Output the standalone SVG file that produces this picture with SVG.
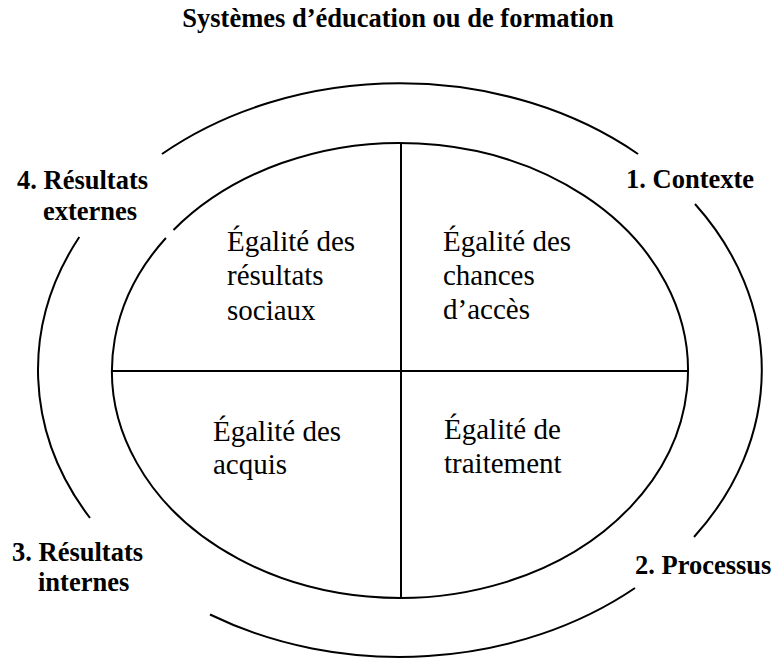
<svg xmlns="http://www.w3.org/2000/svg" width="774" height="658" viewBox="0 0 774 658">
<style>
.ln{fill:none;stroke:#000;stroke-width:2}
.b{font-family:"Liberation Serif","Times New Roman",serif;font-weight:bold;font-size:26.5px;fill:#000}
.r{font-family:"Liberation Serif","Times New Roman",serif;font-size:29px;fill:#000}
</style>
<rect width="774" height="658" fill="#fff"/>
<g id="title"><text class="b" x="398" y="27" text-anchor="middle">Systèmes d’éducation ou de formation</text></g>
<g id="outer-ring">
<path class="ln" d="M162,154 A362,286.7 0 0 1 638,154"/>
<path class="ln" d="M695,204 A362,286.7 0 0 1 694,537"/>
<path class="ln" d="M635,588 A362,286.7 0 0 1 210,614.5"/>
<path class="ln" d="M90,518 A362,286.7 0 0 1 79.3,237"/>
</g>
<g id="inner-ellipse">
<path class="ln" d="M173.5,230 A288,227.5 0 1 1 165.9,238"/>
</g>
<g id="connectors">
<line class="ln" x1="401" y1="143" x2="401" y2="598"/>
<line class="ln" x1="112" y1="371" x2="688" y2="371"/>
</g>
<g id="label-4"><text class="b" x="17" y="189">4. Résultats</text><text class="b" x="43" y="220">externes</text></g>
<g id="label-1"><text class="b" x="626" y="188">1. Contexte</text></g>
<g id="label-3"><text class="b" x="12" y="561">3. Résultats</text><text class="b" x="38" y="591">internes</text></g>
<g id="label-2"><text class="b" x="635" y="574">2. Processus</text></g>
<g id="q-resultats-sociaux"><text class="r" x="227" y="251">Égalité des</text><text class="r" x="227" y="285">résultats</text><text class="r" x="227" y="320">sociaux</text></g>
<g id="q-chances-acces"><text class="r" x="443" y="251">Égalité des</text><text class="r" x="443" y="285">chances</text><text class="r" x="443" y="319">d’accès</text></g>
<g id="q-acquis"><text class="r" x="213" y="441">Égalité des</text><text class="r" x="213" y="474">acquis</text></g>
<g id="q-traitement"><text class="r" x="444" y="439">Égalité de</text><text class="r" x="444" y="473">traitement</text></g>
</svg>
